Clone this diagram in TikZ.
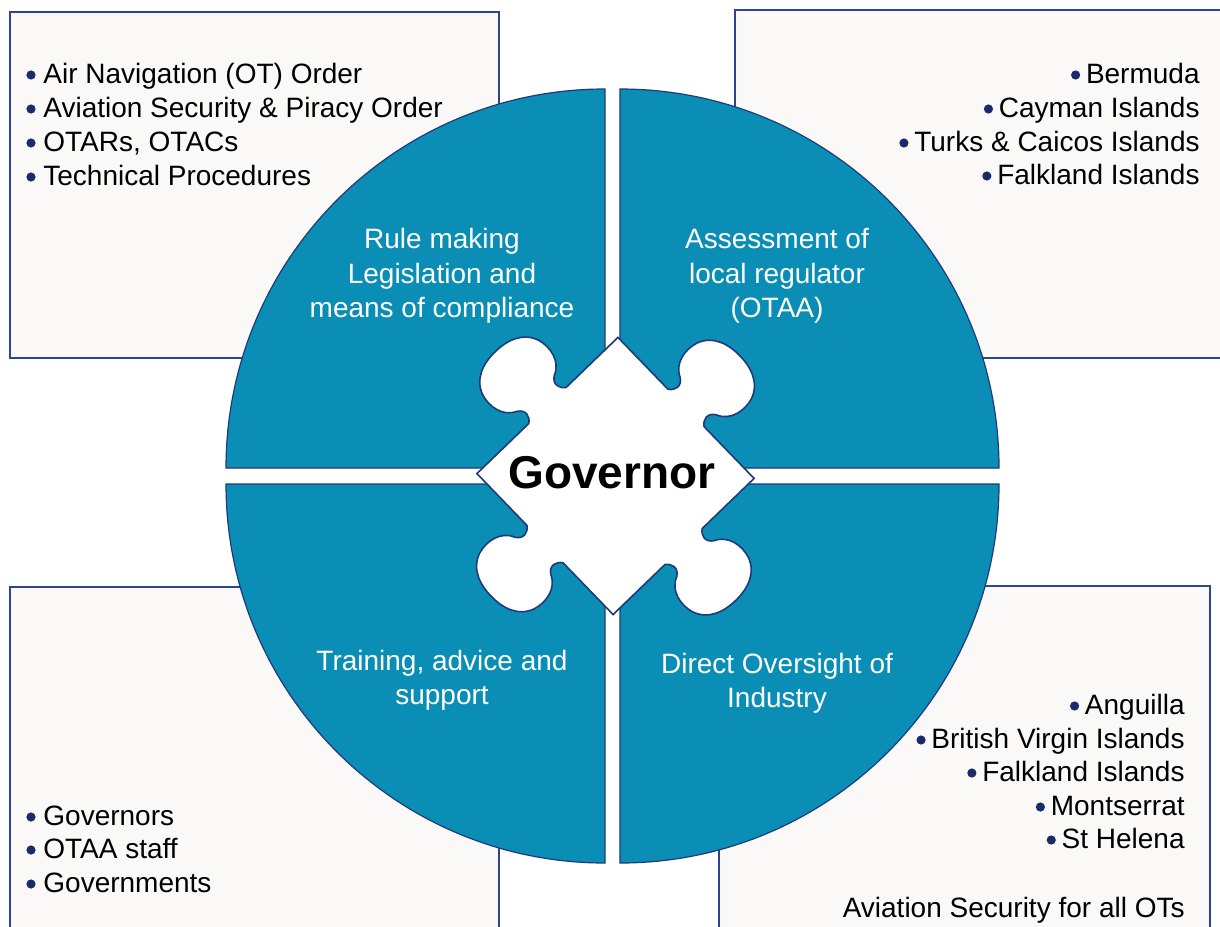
\documentclass[tikz,border=0pt]{standalone}
\usepackage{fontspec}
\setmainfont{Liberation Sans}
\definecolor{quadfill}{HTML}{0A8EB5}
\definecolor{navyline}{HTML}{1F3A7A}
\definecolor{boxline}{HTML}{2B4590}
\definecolor{boxfill}{HTML}{FAF9F7}
\definecolor{bulletblue}{HTML}{1B2A6B}
\tikzset{
  infobox/.style={draw=boxline, line width=0.8pt, fill=boxfill},
  quadrant/.style={fill=quadfill, draw=navyline, line width=0.6pt},
  piece/.style={fill=white, draw=navyline, line width=0.8pt},
  listl/.style={font=\fontsize{14}{17}\selectfont, inner sep=0pt, text=black, anchor=base west},
  listr/.style={font=\fontsize{14}{17}\selectfont, inner sep=0pt, text=black, anchor=base east},
  lbl/.style={font=\fontsize{14}{17}\selectfont, inner sep=0pt, text=white, anchor=base},
  dot/.style={fill=bulletblue},
}
\begin{document}
\begin{tikzpicture}[x=0.5pt,y=-0.5pt]
\clip (0,0) rectangle (1220,926);
\fill[white] (0,0) rectangle (1220,926);

% corner boxes
\path[infobox] (10,12) rectangle (499,358);
\path[infobox] (735,10) rectangle (1235,358);
\path[infobox] (10,587) rectangle (499,940);
\path[infobox] (719,586) rectangle (1210,940);

% four quadrants of the disc
\path[quadrant] (605,468) -- ++(-379,0) arc[start angle=180, end angle=270, radius=379] -- cycle;
\path[quadrant] (620,468) -- ++(0,-379) arc[start angle=270, end angle=360, radius=379] -- cycle;
\path[quadrant] (620,484) -- ++(379,0) arc[start angle=0, end angle=90, radius=379] -- cycle;
\path[quadrant] (605,484) -- ++(0,379) arc[start angle=90, end angle=180, radius=379] -- cycle;

% central jigsaw piece: a square with one tab on each side
\begin{scope}[shift={(615.5,476)}, rotate=44]
\path[piece] (-98,-98) -- (-26,-98)
  .. controls (-20,-102) and (-18,-110) .. (-26,-115)
  .. controls (-40,-121) and (-43,-138) .. (-39,-151)
  .. controls (-33,-168) and (-16,-173) .. (0,-173)
  .. controls (16,-173) and (33,-168) .. (39,-151)
  .. controls (43,-138) and (40,-121) .. (26,-115)
  .. controls (18,-110) and (20,-102) .. (26,-98)
  -- (98,-98) -- (98,-26)
  .. controls (102,-20) and (110,-18) .. (115,-26)
  .. controls (121,-40) and (138,-43) .. (151,-39)
  .. controls (168,-33) and (173,-16) .. (173,0)
  .. controls (173,16) and (168,33) .. (151,39)
  .. controls (138,43) and (121,40) .. (115,26)
  .. controls (110,18) and (102,20) .. (98,26)
  -- (98,98) -- (26,98)
  .. controls (20,102) and (18,110) .. (26,115)
  .. controls (40,121) and (43,138) .. (39,151)
  .. controls (33,168) and (16,173) .. (0,173)
  .. controls (-16,173) and (-33,168) .. (-39,151)
  .. controls (-43,138) and (-40,121) .. (-26,115)
  .. controls (-18,110) and (-20,102) .. (-26,98)
  -- (-98,98) -- (-98,26)
  .. controls (-102,20) and (-110,18) .. (-115,26)
  .. controls (-121,40) and (-138,43) .. (-151,39)
  .. controls (-168,33) and (-173,16) .. (-173,0)
  .. controls (-173,-16) and (-168,-33) .. (-151,-39)
  .. controls (-138,-43) and (-121,-40) .. (-115,-26)
  .. controls (-110,-18) and (-102,-20) .. (-98,-26)
  -- cycle;
\end{scope}
\node[inner sep=0pt, anchor=base, font=\bfseries\fontsize{23}{27}\selectfont] (gov) at (612,488) {Governor};

% quadrant labels
\node[lbl] (rule1) at (442,248) {Rule making};
\node[lbl] (rule2) at (442,283) {Legislation and};
\node[lbl] (rule3) at (442,317) {means of compliance};
\node[lbl] (ass1) at (777,248) {Assessment of};
\node[lbl] (ass2) at (777,283) {local regulator};
\node[lbl] (ass3) at (777,317) {(OTAA)};
\node[lbl] (trn1) at (442,670) {Training, advice and};
\node[lbl] (trn2) at (442,704) {support};
\node[lbl] (dir1) at (777,673) {Direct Oversight of};
\node[lbl] (dir2) at (777,707) {Industry};

% top-left list
\node[listl] (tl1) at (43,83) {Air Navigation (OT) Order};
\node[listl] (tl2) at (43,117) {Aviation Security \& Piracy Order};
\node[listl] (tl3) at (43,151) {OTARs, OTACs};
\node[listl] (tl4) at (43,185) {Technical Procedures};

% top-right list
\node[listr] (tr1) at (1200,83) {Bermuda};
\node[listr] (tr2) at (1200,117) {Cayman Islands};
\node[listr] (tr3) at (1200,151) {Turks \& Caicos Islands};
\node[listr] (tr4) at (1200,184) {Falkland Islands};

% bottom-left list
\node[listl] (bl1) at (43,825) {Governors};
\node[listl] (bl2) at (43,858) {OTAA staff};
\node[listl] (bl3) at (43,892) {Governments};

% bottom-right list
\node[listr] (br1) at (1185,714) {Anguilla};
\node[listr] (br2) at (1185,748) {British Virgin Islands};
\node[listr] (br3) at (1185,781) {Falkland Islands};
\node[listr] (br4) at (1185,815) {Montserrat};
\node[listr] (br5) at (1185,848) {St Helena};
\node[listr] (br6) at (1185,917) {Aviation Security for all OTs};

% bullet dots in front of the list entries
\foreach \n in {tl1,tl2,tl3,tl4,bl1,bl2,bl3}
  \fill[dot] ([shift={(-12,-8)}]\n.base west) circle[radius=4.6];
\foreach \n in {tr1,tr2,tr3,tr4,br1,br2,br3,br4,br5}
  \fill[dot] ([shift={(-10,-8)}]\n.base west) circle[radius=4.6];
\end{tikzpicture}
\end{document}
